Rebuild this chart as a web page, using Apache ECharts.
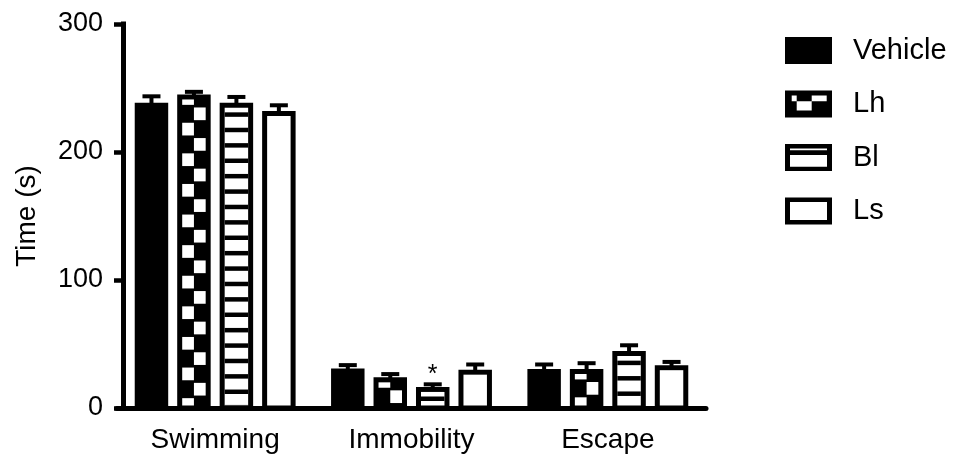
<!DOCTYPE html>
<html>
<head>
<meta charset="utf-8">
<script src="https://cdn.jsdelivr.net/npm/echarts@6/dist/echarts.min.js"></script>
<style>
  html, body { margin: 0; padding: 0; background: #fff; }
  #chart { width: 964px; height: 456px; }
</style>
</head>
<body>
<div id="chart"></div>
<script>
// Forced-swim behaviour: mean time per behaviour, with SEM (upper error bar only)
const categories = ['Swimming', 'Immobility', 'Escape'];
const groups = ['Vehicle', 'Lh', 'Bl', 'Ls'];

const vehicleMean = [236.5, 29, 28.5];
const vehicleSem  = [7, 4.5, 5.5];
const lhMean      = [243, 22, 28.5];
const lhSem       = [4, 4.5, 6.5];
const blMean      = [236.5, 14.5, 42.5];
const blSem       = [6.5, 4, 6.5];
const lsMean      = [230, 28, 31.5];
const lsSem       = [6.5, 6, 4.5];

// significance marks drawn above the Bl bars
const blMarks = ['', '*', ''];

const yTicks = [0, 100, 200, 300];

const FONT = 'Liberation Sans';
const BORDER = 5;          // bar outline thickness (px)
const BAR_FRAC = 0.1705;   // bar width as a share of the category band
const STEP_FRAC = 0.2163;  // distance between neighbouring bars in a band

function rows(means, sems) {
  return means.map((m, i) => [i, m, sems[i]]);
}

// kind: 'solid' | 'checker' | 'stripes' | 'outline'
function makeRenderer(kind, slot, marks) {
  return function (params, api) {
    const cat = api.value(0);
    const mean = api.value(1);
    const sem = api.value(2);
    const base = api.coord([cat, 0]);
    const band = api.size([1, 0])[0];
    const cx = base[0] + (slot - 1.5) * band * STEP_FRAC;
    const w = band * BAR_FRAC;
    const y0 = base[1];
    const yTop = api.coord([cat, mean])[1];
    const yCap = api.coord([cat, mean + sem])[1];
    const left = cx - w / 2;
    const outerTop = yTop - BORDER / 2;
    const floor = y0 - 2.5;
    const black = '#000';
    const white = '#fff';
    const kids = [];

    // error bar: stem + cap
    kids.push({ type: 'line', shape: { x1: cx, y1: yTop, x2: cx, y2: yCap },
      style: { stroke: black, lineWidth: 4 } });
    kids.push({ type: 'line', shape: { x1: cx - 9, y1: yCap, x2: cx + 9, y2: yCap },
      style: { stroke: black, lineWidth: 4 } });

    // bar body
    kids.push({ type: 'rect', shape: { x: left, y: outerTop, width: w, height: y0 - outerTop },
      style: { fill: black } });

    const ix = left + BORDER;
    const iw = w - 2 * BORDER;
    const iy = outerTop + BORDER;
    if (kind !== 'solid' && floor > iy) {
      if (kind === 'outline' || kind === 'stripes') {
        kids.push({ type: 'rect', shape: { x: ix, y: iy, width: iw, height: floor - iy },
          style: { fill: white } });
      }
      if (kind === 'stripes') {
        for (let c = outerTop + 11.8; c - 2.25 < floor; c += 15.4) {
          const a = Math.max(c - 2.25, iy);
          const b = Math.min(c + 2.25, floor);
          if (b > a) {
            kids.push({ type: 'rect', shape: { x: ix, y: a, width: iw, height: b - a },
              style: { fill: black } });
          }
        }
      }
      if (kind === 'checker') {
        const half = iw / 2;
        for (let k = 0; ; k++) {
          const t = outerTop - 2.3 + 15.3 * k;
          if (t >= floor) break;
          const a = Math.max(t, iy);
          const b = Math.min(t + 12.7, floor);
          if (b > a) {
            kids.push({ type: 'rect',
              shape: { x: k % 2 === 0 ? ix : ix + half, y: a, width: half, height: b - a },
              style: { fill: white } });
          }
        }
      }
    }

    if (marks && marks[cat]) {
      kids.push({ type: 'text', style: { text: marks[cat], x: cx, y: yCap - 9,
        align: 'center', verticalAlign: 'middle', fill: black,
        font: '25px "' + FONT + '"' } });
    }
    return { type: 'group', children: kids };
  };
}

// legend swatches (47 x 27), holes cut with reversed winding
const OUTER = 'M0 0H47V27H0Z';
function hole(x, y, w, h) {
  return 'M' + x + ' ' + y + 'V' + (y + h) + 'H' + (x + w) + 'V' + y + 'Z';
}
const icons = {
  Vehicle: 'path://' + OUTER,
  Lh: 'path://' + OUTER + hole(6.7, 5, 5, 5.7) + hole(11.7, 10.7, 15, 9.3) + hole(26.7, 5, 15, 5.7),
  Bl: 'path://' + OUTER + hole(5, 4.4, 37, 1.8) + hole(5, 11, 37, 11.7),
  Ls: 'path://' + OUTER + hole(5, 4.5, 37, 18)
};

const seriesSpec = [
  { name: 'Vehicle', kind: 'solid',   data: rows(vehicleMean, vehicleSem), marks: null },
  { name: 'Lh',      kind: 'checker', data: rows(lhMean, lhSem),           marks: null },
  { name: 'Bl',      kind: 'stripes', data: rows(blMean, blSem),           marks: blMarks },
  { name: 'Ls',      kind: 'outline', data: rows(lsMean, lsSem),           marks: null }
];

const chart = echarts.init(document.getElementById('chart'), null, { renderer: 'canvas' });

chart.setOption({
  animation: false,
  backgroundColor: '#fff',
  color: ['#000'],
  textStyle: { fontFamily: FONT, color: '#000' },
  grid: { left: 117, top: 24, width: 589, bottom: 48, containLabel: false },
  legend: {
    orient: 'vertical',
    left: 780,
    top: 31,
    itemWidth: 47,
    itemHeight: 27,
    itemGap: 24.5,
    selectedMode: false,
    itemStyle: { borderWidth: 0 },
    textStyle: { fontFamily: FONT, fontSize: 29, color: '#000', lineHeight: 27, padding: [0, 0, 0, 16] },
    data: groups.map(g => ({ name: g, icon: icons[g] }))
  },
  xAxis: {
    type: 'category',
    data: categories,
    axisLine: { lineStyle: { color: '#000', width: 5 } },
    axisTick: { alignWithLabel: true, length: 7, lineStyle: { color: '#000', width: 4.5 } },
    axisLabel: { color: '#000', fontSize: 28, fontFamily: FONT, margin: 18 },
    splitLine: { show: false }
  },
  yAxis: {
    type: 'value',
    min: yTicks[0],
    max: yTicks[yTicks.length - 1],
    interval: yTicks[1] - yTicks[0],
    offset: -6,
    name: 'Time (s)',
    nameLocation: 'middle',
    nameGap: 82,
    nameTextStyle: { color: '#000', fontSize: 28, fontFamily: FONT },
    axisLine: { show: true, lineStyle: { color: '#000', width: 5, cap: 'square' } },
    axisTick: { show: true, length: 9, lineStyle: { color: '#000', width: 4.5 } },
    axisLabel: { color: '#000', fontSize: 27, fontFamily: FONT, margin: 20 },
    splitLine: { show: false }
  },
  series: seriesSpec.map((s, i) => ({
    type: 'custom',
    name: s.name,
    itemStyle: { color: '#000' },
    encode: { x: 0, y: 1 },
    renderItem: makeRenderer(s.kind, i, s.marks),
    data: s.data
  }))
});
</script>
</body>
</html>
